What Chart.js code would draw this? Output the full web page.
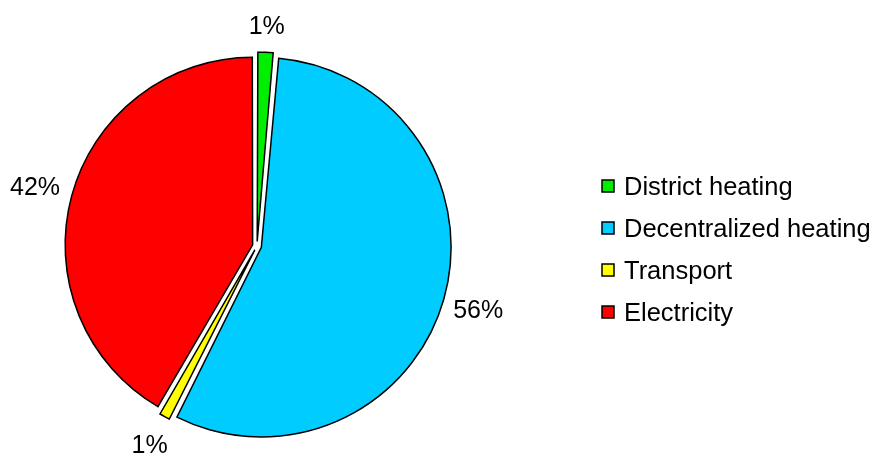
<!DOCTYPE html>
<html>
<head>
<meta charset="utf-8">
<script src="https://cdn.jsdelivr.net/npm/chart.js@4.4.1/dist/chart.umd.min.js"></script>
<style>
  html, body { margin: 0; padding: 0; background: #fff; }
  #wrap { width: 875px; height: 456px; position: relative; }
</style>
</head>
<body>
<div id="wrap"><canvas id="grafica"></canvas></div>
<script>
// Datos del gráfico
const categorias = ["District heating", "Decentralized heating", "Transport", "Electricity"];
const valores = [1.4, 56, 1, 41.6];
const etiquetas = ["1%", "56%", "1%", "42%"];
const colores = ["#00ee00", "#00ccff", "#ffff00", "#ff0000"];

const fuente = "25px 'Liberation Sans', Arial, sans-serif";
const fuenteLeyenda = "25.5px 'Liberation Sans', Arial, sans-serif";

// Etiquetas de porcentaje fuera del pastel
const etiquetasFuera = {
    id: "etiquetasFuera",
    afterDatasetsDraw(chart) {
        const ctx = chart.ctx;
        const meta = chart.getDatasetMeta(0);
        ctx.save();
        ctx.font = fuente;
        ctx.fillStyle = "#000";
        ctx.textAlign = "center";
        ctx.textBaseline = "alphabetic";
        meta.data.forEach((arco, i) => {
            const medio = (arco.startAngle + arco.endAngle) / 2;
            const r = arco.outerRadius + 36 + 9 * Math.abs(Math.cos(medio));
            const x = arco.x + Math.cos(medio) * r;
            const y = arco.y + Math.sin(medio) * r;
            ctx.fillText(etiquetas[i], x, y + 9);
        });
        ctx.restore();
    }
};

// Leyenda dibujada a mano a la derecha
const leyenda = {
    id: "leyenda",
    afterDraw(chart) {
        const ctx = chart.ctx;
        ctx.save();
        ctx.font = fuenteLeyenda;
        ctx.textBaseline = "alphabetic";
        categorias.forEach((nombre, i) => {
            const y = 186 + i * 42;
            ctx.fillStyle = colores[i];
            ctx.fillRect(602, y - 6, 12, 12);
            ctx.strokeStyle = "#000";
            ctx.lineWidth = 1.5;
            ctx.strokeRect(602, y - 6, 12, 12);
            ctx.fillStyle = "#000";
            ctx.fillText(nombre, 624, y + 9);
        });
        ctx.restore();
    }
};

const ctx = document.getElementById("grafica").getContext("2d");
new Chart(ctx, {
    type: "pie",
    data: {
        labels: categorias,
        datasets: [{
            data: valores,
            backgroundColor: colores,
            borderColor: "#000",
            borderWidth: 1.5,
            offset: 18,
            borderJoinStyle: "miter"
        }]
    },
    options: {
        responsive: true,
        maintainAspectRatio: false,
        animation: false,
        layout: {
            padding: { top: 51, bottom: 15, left: 62, right: 423 }
        },
        plugins: {
            legend: { display: false },
            tooltip: { enabled: false }
        }
    },
    plugins: [etiquetasFuera, leyenda]
});
</script>
</body>
</html>
